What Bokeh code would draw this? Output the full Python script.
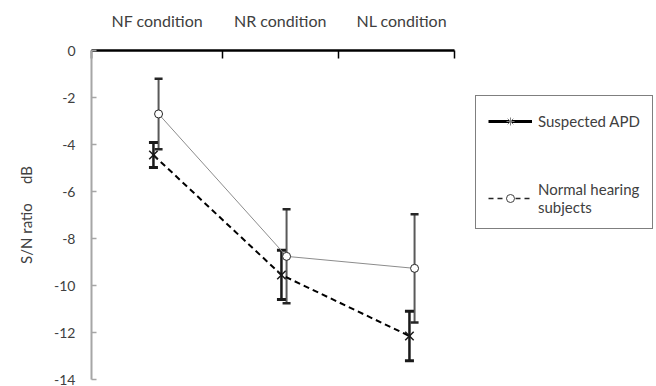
from bokeh.plotting import figure
from bokeh.layouts import row
from bokeh.models import (ColumnDataSource, Range1d, FixedTicker, Whisker,
                          TeeHead, Legend, LegendItem, PrintfTickFormatter)
from bokeh.embed import file_html
from bokeh.resources import INLINE

# ---- data ----
categories = ["NF condition", "NR condition", "NL condition"]
apd_mean = [-4.45, -9.55, -12.15]
apd_err = [0.53, 1.05, 1.05]
normal_mean = [-2.7, -8.76, -9.27]
normal_err = [1.5, 2.0, 2.3]
y_ticks = [-14, -12, -10, -8, -6, -4, -2, 0]

# ---- layout constants ----
cat_x = [1, 2, 3]
offset = 0.02
label_pos = [1.01, 1.97, 2.92]
boundary_pos = [0.496, 1.52, 2.426, 3.332]
FONT = "Lato"
TXT = "#404040"

apd_x = [c - offset for c in cat_x]
normal_x = [c + offset for c in cat_x]

src_apd = ColumnDataSource(dict(
    x=apd_x, y=apd_mean,
    upper=[m + e for m, e in zip(apd_mean, apd_err)],
    lower=[m - e for m, e in zip(apd_mean, apd_err)]))
src_norm = ColumnDataSource(dict(
    x=normal_x, y=normal_mean,
    upper=[m + e for m, e in zip(normal_mean, normal_err)],
    lower=[m - e for m, e in zip(normal_mean, normal_err)]))

p = figure(width=456, height=386,
           x_range=Range1d(boundary_pos[0], boundary_pos[-1]),
           y_range=Range1d(-14, 0),
           x_axis_location="above",
           output_backend="svg", toolbar_location=None,
           min_border_left=91, min_border_right=2,
           min_border_top=50, min_border_bottom=7)
p.outline_line_color = None
p.xgrid.visible = False
p.ygrid.visible = False
p.background_fill_color = "white"
p.border_fill_color = "white"

# lines
p.line("x", "y", source=src_norm, line_color="#8c8c8c", line_width=1)
p.line("x", "y", source=src_apd, line_color="black", line_width=2,
       line_dash="6 4")

# error bars
p.add_layout(Whisker(source=src_norm, base="x", upper="upper", lower="lower",
                     line_color="#595959", line_width=2,
                     upper_head=TeeHead(size=8, line_width=2.5, line_color="#262626"),
                     lower_head=TeeHead(size=8, line_width=2.5, line_color="#262626")))
p.add_layout(Whisker(source=src_apd, base="x", upper="upper", lower="lower",
                     line_color="#1a1a1a", line_width=2.5,
                     upper_head=TeeHead(size=9, line_width=3, line_color="#1a1a1a"),
                     lower_head=TeeHead(size=9, line_width=3, line_color="#1a1a1a")))

# markers
p.scatter("x", "y", source=src_norm, marker="circle", size=8,
          line_color="#262626", line_width=1, fill_color="white")
p.scatter("x", "y", source=src_apd, marker="x", size=12,
          line_color="#1a1a1a", line_width=1.5)

# top axis
xa = p.xaxis[0]
xa.ticker = FixedTicker(ticks=label_pos, minor_ticks=boundary_pos)
xa.major_label_overrides = {pos: name for pos, name in zip(label_pos, categories)}
xa.major_tick_line_color = None
xa.major_tick_in = 0
xa.major_tick_out = 0
xa.minor_tick_in = 8
xa.minor_tick_out = 0
xa.minor_tick_line_color = "black"
xa.minor_tick_line_width = 1.5
xa.axis_line_color = "black"
xa.axis_line_width = 2.5
xa.major_label_standoff = 21
xa.major_label_text_font = FONT
xa.major_label_text_font_size = "16px"
xa.major_label_text_color = TXT

# left axis
ya = p.yaxis[0]
ya.ticker = FixedTicker(ticks=y_ticks, minor_ticks=[])
ya.formatter = PrintfTickFormatter(format="%d")
ya.axis_line_color = "#a6a6a6"
ya.axis_line_width = 2
ya.major_tick_in = 5
ya.major_tick_out = 0
ya.major_tick_line_color = "#a6a6a6"
ya.major_tick_line_width = 1.5
ya.major_label_standoff = 16
ya.major_label_text_font = FONT
ya.major_label_text_font_size = "14px"
ya.major_label_text_color = TXT
ya.axis_label = "S/N ratio\u00a0\u00a0\u00a0\u00a0\u00a0dB"
ya.axis_label_text_font = FONT
ya.axis_label_text_font_size = "15px"
ya.axis_label_text_font_style = "normal"
ya.axis_label_text_color = TXT
ya.axis_label_standoff = 16

# ---- legend panel (styled as in the original figure) ----
p2 = figure(width=200, height=386, x_range=Range1d(0, 1), y_range=Range1d(0, 1),
            x_axis_location=None, y_axis_location=None,
            output_backend="svg", toolbar_location=None, min_border=0)
p2.outline_line_color = None
p2.xgrid.visible = False
p2.ygrid.visible = False

# one point far outside the visible range so that legend glyphs get drawn
dummy = ColumnDataSource(dict(x=[-10], y=[-10]))
l1 = p2.line("x", "y", source=dummy, line_color="black", line_width=3)
s1 = p2.scatter("x", "y", source=dummy, marker="asterisk", size=12,
                line_color="#7f7f7f", line_width=1)
l2 = p2.line("x", "y", source=dummy, line_color="#262626", line_width=1.5,
             line_dash="5 4")
s2 = p2.scatter("x", "y", source=dummy, marker="circle", size=10,
                line_color="#404040", line_width=1, fill_color="white")

legend = Legend(items=[LegendItem(label="Suspected APD", renderers=[l1, s1]),
                       LegendItem(label="Normal hearing\nsubjects", renderers=[l2, s2])],
                location=(19, 150))
legend.border_line_color = "black"
legend.border_line_width = 1
legend.background_fill_color = "white"
legend.background_fill_alpha = 1
legend.glyph_width = 44
legend.glyph_height = 20
legend.label_standoff = 6
legend.padding = 12
legend.spacing = 46
legend.margin = 0
legend.label_height = 26
legend.label_text_font = FONT
legend.label_text_font_size = "15px"
legend.label_text_color = TXT
p2.add_layout(legend, "center")

layout = row(p, p2)
open("out.html", "w").write(file_html(layout, INLINE))
